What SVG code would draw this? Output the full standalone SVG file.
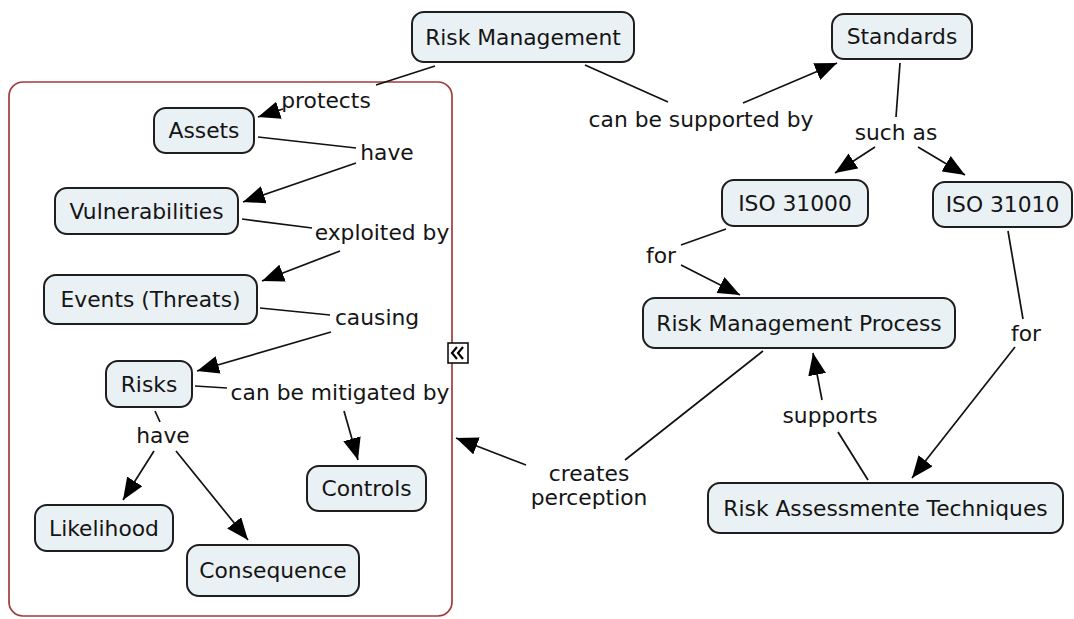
<svg xmlns="http://www.w3.org/2000/svg" width="1074" height="619" viewBox="0 0 1074 619">
<defs>
<marker id="ah" markerUnits="userSpaceOnUse" markerWidth="24" markerHeight="18" refX="22" refY="9" orient="auto">
<path d="M0,0 L22,9 L0,18 z" fill="#000"/>
</marker>
<style>
.n rect{fill:#eaf1f4;stroke:#1e1e1e;stroke-width:2}
text{font-family:"DejaVu Sans","Verdana",sans-serif;font-size:21.8px;fill:#151515;text-anchor:middle}
.c line{stroke:#111;stroke-width:1.7}
.c line.a{marker-end:url(#ah)}
</style>
</defs>
<rect width="1074" height="619" fill="#fff"/>
<rect id="group-box" x="9" y="82" width="443" height="534" rx="14" fill="none" stroke="#a33a3a" stroke-width="1.7"/>
<g id="collapse-icon">
<rect x="448" y="343" width="20" height="20" fill="#fff" stroke="#000" stroke-width="1.5"/>
<polyline points="457,347 452,353 457,359" fill="none" stroke="#000" stroke-width="2.2"/>
<polyline points="463,347 458,353 463,359" fill="none" stroke="#000" stroke-width="2.2"/>
</g>
<g id="connectors" class="c">
<line x1="435" y1="66" x2="376" y2="85"/>
<line class="a" x1="283" y1="109" x2="258" y2="117"/>
<line x1="258" y1="137" x2="356" y2="148"/>
<line class="a" x1="356" y1="163" x2="243" y2="202"/>
<line x1="242" y1="219" x2="312" y2="228"/>
<line class="a" x1="340" y1="251" x2="262" y2="281"/>
<line x1="260" y1="308" x2="330" y2="315"/>
<line class="a" x1="331" y1="332" x2="197" y2="371"/>
<line x1="195" y1="386" x2="227" y2="388"/>
<line class="a" x1="344" y1="411" x2="358" y2="460"/>
<line x1="155" y1="411" x2="160" y2="422"/>
<line class="a" x1="154" y1="451" x2="123" y2="500"/>
<line class="a" x1="176" y1="451" x2="248" y2="540"/>
<line x1="585" y1="65" x2="668" y2="102"/>
<line class="a" x1="743" y1="103" x2="837" y2="63"/>
<line x1="900" y1="63" x2="896" y2="117"/>
<line class="a" x1="875" y1="147" x2="835" y2="173"/>
<line class="a" x1="918" y1="147" x2="965" y2="175"/>
<line x1="726" y1="229" x2="681" y2="245"/>
<line class="a" x1="681" y1="265" x2="740" y2="295"/>
<line x1="1008" y1="231" x2="1023" y2="319"/>
<line class="a" x1="1015" y1="347" x2="912" y2="478"/>
<line x1="868" y1="480" x2="838" y2="432"/>
<line class="a" x1="822" y1="400" x2="813" y2="353"/>
<line x1="763" y1="351" x2="625" y2="460"/>
<line class="a" x1="526" y1="465" x2="456" y2="438"/>
</g>
<g id="labels">
<text x="326" y="108">protects</text>
<text x="387" y="160">have</text>
<text x="382" y="240">exploited by</text>
<text x="377" y="325">causing</text>
<text x="340" y="400">can be mitigated by</text>
<text x="163" y="443">have</text>
<text x="701" y="127">can be supported by</text>
<text x="896" y="140">such as</text>
<text x="661" y="263">for</text>
<text x="1026" y="341">for</text>
<text x="830" y="423">supports</text>
<text x="589" y="481">creates</text>
<text x="589" y="505">perception</text>
</g>
<g id="n-risk-management" class="n"><rect x="412" y="12" width="222" height="50" rx="12"/><text x="523" y="44.5">Risk Management</text></g>
<g id="n-standards" class="n"><rect x="832" y="14" width="140" height="45" rx="12"/><text x="902" y="44">Standards</text></g>
<g id="n-assets" class="n"><rect x="154" y="108" width="100" height="45" rx="12"/><text x="204" y="138">Assets</text></g>
<g id="n-vulnerabilities" class="n"><rect x="55" y="188" width="183" height="46" rx="12"/><text x="146.5" y="218.5">Vulnerabilities</text></g>
<g id="n-events" class="n"><rect x="44" y="275" width="213" height="49" rx="12"/><text x="150.5" y="307">Events (Threats)</text></g>
<g id="n-risks" class="n"><rect x="106" y="361" width="86" height="46" rx="12"/><text x="149" y="391.5">Risks</text></g>
<g id="n-controls" class="n"><rect x="307" y="466" width="119" height="45" rx="12"/><text x="366.5" y="496">Controls</text></g>
<g id="n-likelihood" class="n"><rect x="35" y="505" width="138" height="46" rx="12"/><text x="104" y="535.5">Likelihood</text></g>
<g id="n-consequence" class="n"><rect x="187" y="545" width="172" height="51" rx="12"/><text x="273" y="578">Consequence</text></g>
<g id="n-iso31000" class="n"><rect x="722" y="180" width="146" height="46" rx="12"/><text x="795" y="210.5">ISO 31000</text></g>
<g id="n-iso31010" class="n"><rect x="933" y="182" width="139" height="45" rx="12"/><text x="1002.5" y="212">ISO 31010</text></g>
<g id="n-rmp" class="n"><rect x="643" y="298" width="312" height="50" rx="12"/><text x="799" y="330.5">Risk Management Process</text></g>
<g id="n-rat" class="n"><rect x="708" y="483" width="355" height="50" rx="12"/><text x="885.5" y="515.5">Risk Assessmente Techniques</text></g>
</svg>
